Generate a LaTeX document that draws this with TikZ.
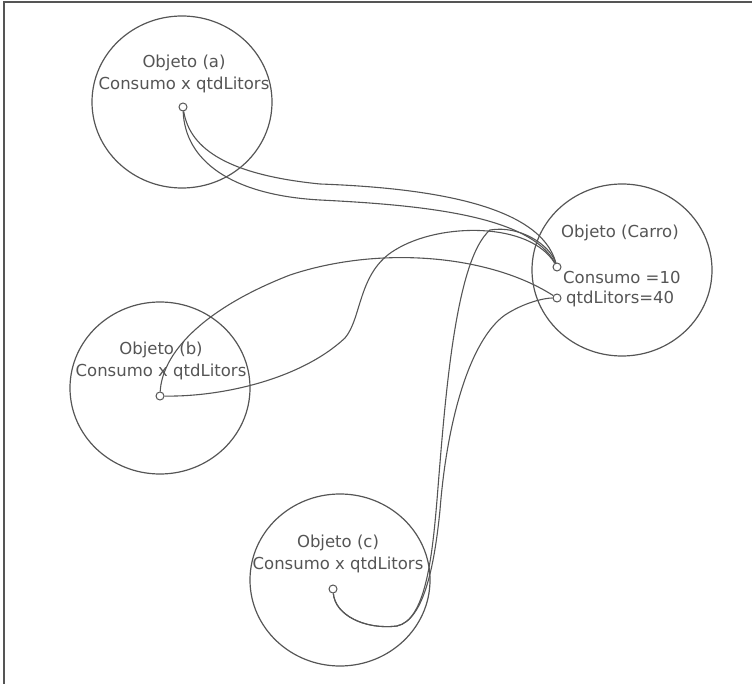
\documentclass[tikz,border=0pt]{standalone}
\usepackage{fontspec}
\setmainfont{DejaVu Sans}
\usetikzlibrary{shapes.geometric}

\definecolor{linegray}{RGB}{85,85,85}
\tikzset{
  objeto/.style={draw=linegray, line width=1.2pt, ellipse, minimum width=180pt, minimum height=172pt, inner sep=0pt},
  porta/.style={draw=linegray, fill=white, circle, line width=1pt, minimum size=8pt, inner sep=0pt},
  rotulo/.style={text=linegray, font=\fontsize{16.5}{19}\selectfont, inner sep=0pt},
  ligacao/.style={draw=linegray, line width=1.1pt},
}

\begin{document}
\begin{tikzpicture}[x=1pt,y=-1pt]
\useasboundingbox (0,0) rectangle (752,684);
\draw[linegray, line width=2pt] (4,684) -- (4,2) -- (752,2);

% objetos
\node[objeto] (objA) at (182,102) {};
\node[objeto] (objB) at (160,388) {};
\node[objeto] (objC) at (340,580) {};
\node[objeto] (carro) at (622,270) {};

\node[rotulo] (tA) at (184,63) {Objeto (a)};
\node[rotulo] (cA) at (184,85) {Consumo x qtdLitors};
\node[rotulo] (tB) at (161,350) {Objeto (b)};
\node[rotulo] (cB) at (161,372) {Consumo x qtdLitors};
\node[rotulo] (tC) at (338,543) {Objeto (c)};
\node[rotulo] (cC) at (338,565) {Consumo x qtdLitors};
\node[rotulo] (tCarro) at (620,233) {Objeto (Carro)};
\node[rotulo, anchor=west] (consumo) at (563,277) {Consumo =10};
\node[rotulo, anchor=west] (litros) at (566,299) {qtdLitors=40};

% portas
\node[porta] (pa) at (183,107) {};
\node[porta] (pb) at (160,396) {};
\node[porta] (pc) at (333,589) {};
\node[porta] (pTop) at (557,267) {};
\node[porta] (pBot) at (557,298) {};

% ligacoes
\draw[ligacao] (pa) .. controls (190,150) and (230,175) .. (320,184) .. controls (430,188) and (540,205) .. (pTop);
\draw[ligacao] (pa) .. controls (185,160) and (230,195) .. (320,200) .. controls (420,205) and (530,215) .. (pTop);
\draw[ligacao] (pb) .. controls (220,397) and (300,380) .. (345,338) .. controls (362,318) and (358,272) .. (395,250) .. controls (440,222) and (530,222) .. (pTop);
\draw[ligacao] (pb) .. controls (162,355) and (200,310) .. (290,275) .. controls (380,245) and (490,255) .. (pBot);
\draw[ligacao] (pc) .. controls (335,615) and (365,630) .. (397,626) .. controls (425,620) and (432,560) .. (437,500) .. controls (445,400) and (455,260) .. (490,230) .. controls (520,225) and (550,245) .. (pTop);
\draw[ligacao] (pc) .. controls (335,615) and (365,630) .. (397,626) .. controls (425,620) and (435,560) .. (440,510) .. controls (447,420) and (470,340) .. (505,315) .. controls (525,302) and (545,298) .. (pBot);
\end{tikzpicture}
\end{document}
